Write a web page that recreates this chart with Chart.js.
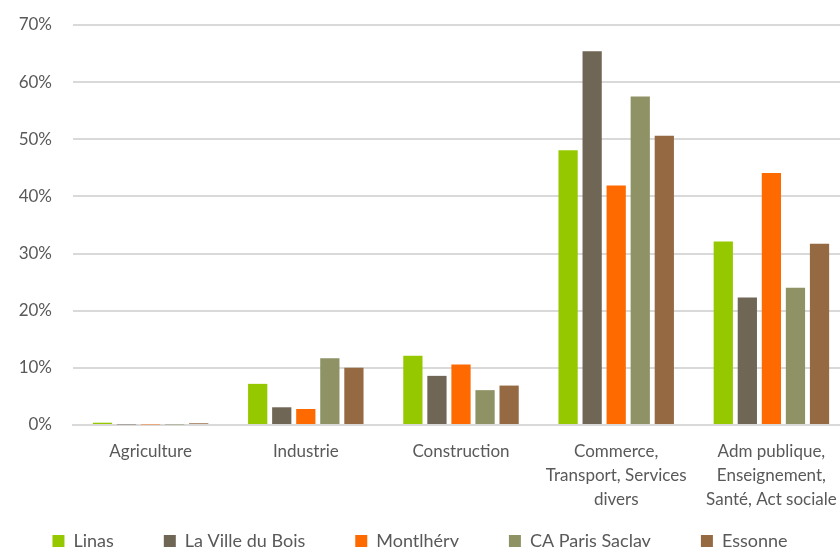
<!DOCTYPE html>
<html lang="fr">
<head>
<meta charset="utf-8">
<script src="https://cdn.jsdelivr.net/npm/chart.js@4/dist/chart.umd.min.js"></script>
<style>
    html, body { margin: 0; padding: 0; background: #fff; }
    #wrap { width: 840px; height: 547px; }
</style>
</head>
<body>
<div id="wrap"><canvas id="chart"></canvas></div>
<script>
const CATEGORIES = [
    'Agriculture',
    'Industrie',
    'Construction',
    ['Commerce,', 'Transport, Services', 'divers'],
    ['Adm publique,', 'Enseignement,', 'Santé, Act sociale'],
];

const LINAS     = [0.4, 7.2, 12.1, 48.1, 32.1];
const VILLE     = [0.1, 3.1, 8.6, 65.4, 22.3];
const MONTLHERY = [0.1, 2.8, 10.6, 41.9, 44.1];
const CA_SACLAY = [0.1, 11.7, 6.1, 57.5, 24.0];
const ESSONNE   = [0.3, 10.0, 6.9, 50.6, 31.7];

const Y_TICKS = [0, 10, 20, 30, 40, 50, 60, 70];

const TEXT = '#595959';
const GRID = '#d9d9d9';
const OVERHANG = 9;   // plot runs a little past the right edge, as in the original

const series = [
    { label: 'Linas',            data: LINAS,     color: '#96c800' },
    { label: 'La Ville du Bois', data: VILLE,     color: '#706655' },
    { label: 'Montlhéry',        data: MONTLHERY, color: '#ff6a00' },
    { label: 'CA Paris Saclay',  data: CA_SACLAY, color: '#8e9264' },
    { label: 'Essonne',          data: ESSONNE,   color: '#956a42' },
];

// x labels run down into the empty top part of the legend box, and the
// plot itself runs slightly off the right edge
const adjustLayout = {
    id: 'adjustLayout',
    afterLayout(chart) {
        const x    = chart.scales.x;
        const area = chart.chartArea;
        x.bottom = chart.height;
        x.right  = chart.width + OVERHANG;
        x.width  = x.right - x.left;
        x.configure();
        area.right = x.right;
        area.width = area.right - area.left;
    },
};

new Chart(document.getElementById('chart'), {
    type: 'bar',
    data: {
        labels: CATEGORIES,
        datasets: series.map(s => ({
            label:              s.label,
            data:               s.data,
            backgroundColor:    s.color,
            borderWidth:        0,
            categoryPercentage: 0.775,
            barPercentage:      0.8,
        })),
    },
    plugins: [adjustLayout],
    options: {
        responsive:          true,
        maintainAspectRatio: false,
        animation:           false,
        layout: { padding: { top: 25, right: 0, bottom: -13, left: 0 } },
        plugins: {
            tooltip: { enabled: false },
            legend: {
                position: 'bottom',
                labels: {
                    color:     TEXT,
                    font:      { family: 'Lato', size: 18 },
                    boxWidth:  12,
                    boxHeight: 12,
                    padding:   50,
                },
            },
        },
        scales: {
            x: {
                grid:   { display: false },
                border: { display: true, color: GRID, width: 2 },
                ticks:  {
                    color:       TEXT,
                    font:        { family: 'Lato', size: 17, lineHeight: 1.42 },
                    padding:     6,
                    maxRotation: 0,
                    autoSkip:    false,
                },
                afterFit: scale => { scale.height = 57; },
            },
            y: {
                min: 0,
                max: 70,
                afterBuildTicks: scale => { scale.ticks = Y_TICKS.map(v => ({ value: v })); },
                grid:   { color: GRID, lineWidth: 2, drawTicks: false },
                border: { display: false },
                ticks:  {
                    color:    TEXT,
                    font:     { family: 'Lato', size: 17 },
                    padding:  21,
                    callback: v => v + '%',
                },
                afterFit: scale => {
                    scale.width = 73;
                    scale.paddingTop = 10;
                    scale.paddingBottom = 10;
                },
            },
        },
    },
});
</script>
</body>
</html>
